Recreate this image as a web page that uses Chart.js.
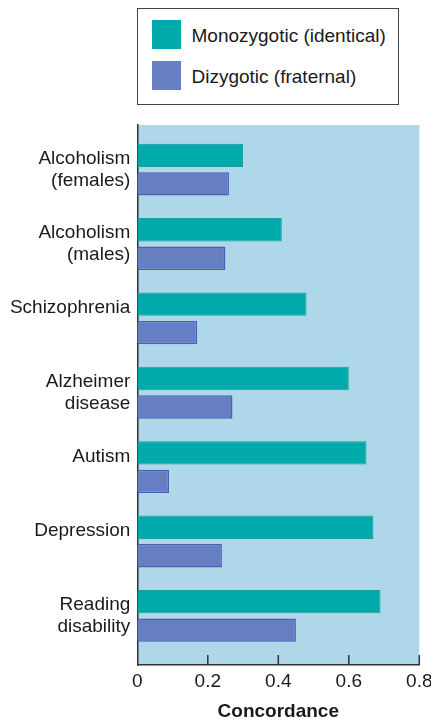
<!DOCTYPE html>
<html lang="en">
<head>
<meta charset="UTF-8">
<title>Twin concordance</title>
<script src="https://cdn.jsdelivr.net/npm/chart.js"></script>
<style>
  body { margin: 0; background: #fff; }
  #wrap { position: relative; width: 431px; height: 721px; }
  #legend {
    position: absolute; left: 137px; top: 8px; width: 262px; height: 97px;
    box-sizing: border-box; border: 1.5px solid #444; background: #fff;
    font-family: 'Liberation Sans', Arial, sans-serif; font-size: 19px; color: #1a1a1a;
  }
  #legend .item { position: absolute; left: 13.5px; display: flex; align-items: center; height: 29px; }
  #legend .swatch { width: 29px; height: 29px; margin-right: 11px; }
</style>
</head>
<body>
<div id="wrap">
  <canvas id="chart" width="431" height="721"></canvas>
  <div id="legend"></div>
</div>
<script>
// one entry per disorder, top to bottom
const categories = [
  ['Alcoholism', '(females)'],
  ['Alcoholism', '(males)'],
  ['Schizophrenia', ''],
  ['Alzheimer', 'disease'],
  ['Autism', ''],
  ['Depression', ''],
  ['Reading', 'disability']
];
const monozygotic = [0.30, 0.41, 0.48, 0.60, 0.65, 0.67, 0.69];
const dizygotic = [0.26, 0.25, 0.17, 0.27, 0.09, 0.24, 0.45];
const xTicks = [0, 0.2, 0.4, 0.6, 0.8];
const seriesNames = ['Monozygotic (identical)', 'Dizygotic (fraternal)'];

Chart.defaults.font.family = "'Liberation Sans', Arial, sans-serif";
Chart.defaults.font.size = 19;
Chart.defaults.color = '#1a1a1a';

const toPoints = (vals) => vals.map((v, i) => ({ x: v, y: i }));

// light blue panel behind the bars
const panel = {
  id: 'panel',
  beforeDraw(chart) {
    const { ctx, chartArea: a } = chart;
    ctx.save();
    ctx.fillStyle = '#aed7e9';
    ctx.fillRect(a.left, a.top, a.right - a.left, a.bottom - a.top);
    ctx.restore();
  }
};

// tick marks pointing up into the panel
const innerTicks = {
  id: 'innerTicks',
  afterDraw(chart) {
    const { ctx, scales: { x }, chartArea: a } = chart;
    ctx.save();
    ctx.strokeStyle = '#333';
    ctx.lineWidth = 1.5;
    x.ticks.forEach(t => {
      if (t.value === 0) return;
      const px = x.getPixelForValue(t.value);
      ctx.beginPath();
      ctx.moveTo(px, a.bottom);
      ctx.lineTo(px, a.bottom - 10);
      ctx.stroke();
    });
    ctx.restore();
  }
};

// boxed legend above the chart
const htmlLegend = {
  id: 'htmlLegend',
  afterUpdate(chart) {
    const box = document.getElementById('legend');
    box.innerHTML = '';
    chart.data.datasets.forEach((ds, i) => {
      const item = document.createElement('div');
      item.className = 'item';
      item.style.top = (10.5 + i * 41) + 'px';
      const sw = document.createElement('span');
      sw.className = 'swatch';
      sw.style.background = ds.backgroundColor;
      const txt = document.createElement('span');
      txt.style.paddingTop = '3px';
      txt.textContent = ds.label;
      item.appendChild(sw);
      item.appendChild(txt);
      box.appendChild(item);
    });
  }
};

new Chart(document.getElementById('chart'), {
  type: 'bar',
  data: {
    datasets: [{
      label: seriesNames[0],
      data: toPoints(monozygotic),
      backgroundColor: '#00aaaa',
      borderColor: '#1a9f9f',
      borderWidth: 1
    }, {
      label: seriesNames[1],
      data: toPoints(dizygotic),
      backgroundColor: '#687ec2',
      borderColor: '#4862b2',
      borderWidth: 1.5
    }]
  },
  options: {
    indexAxis: 'y',
    responsive: false,
    devicePixelRatio: 1,
    animation: false,
    categoryPercentage: 0.767,
    barPercentage: 0.82,
    layout: { padding: { top: 125, right: 11.7, left: 0, bottom: 0 } },
    plugins: { legend: { display: false }, tooltip: { enabled: false } },
    scales: {
      x: {
        type: 'linear',
        min: 0,
        max: 0.8,
        afterBuildTicks: (s) => { s.ticks = xTicks.map(v => ({ value: v })); },
        afterFit: (s) => {
          s.height = 56;
          // let the end labels hang over the edges
          s.paddingLeft = 0;
          s.paddingRight = 0;
        },
        grid: { display: false, drawTicks: false },
        border: { display: true, color: '#333', width: 1.5 },
        ticks: {
          padding: 5,
          callback: (v) => v === 0 ? '0' : v.toFixed(1)
        },
        title: {
          display: true,
          text: 'Concordance',
          font: { size: 19, weight: 'bold', lineHeight: 1 },
          padding: { top: 0, bottom: 0 }
        }
      },
      y: {
        type: 'linear',
        reverse: true,
        offset: false,
        min: -0.6,
        max: 6.66,
        afterBuildTicks: (s) => { s.ticks = categories.map((c, i) => ({ value: i })); },
        afterFit: (s) => { s.width = 137.3; },
        grid: { display: false, drawTicks: false, offset: false },
        border: { display: true, color: '#333', width: 1.5 },
        ticks: {
          padding: 7,
          font: { size: 19, lineHeight: 1.14 },
          callback: (v) => categories[v]
        }
      }
    }
  },
  plugins: [panel, innerTicks, htmlLegend]
});
</script>
</body>
</html>
